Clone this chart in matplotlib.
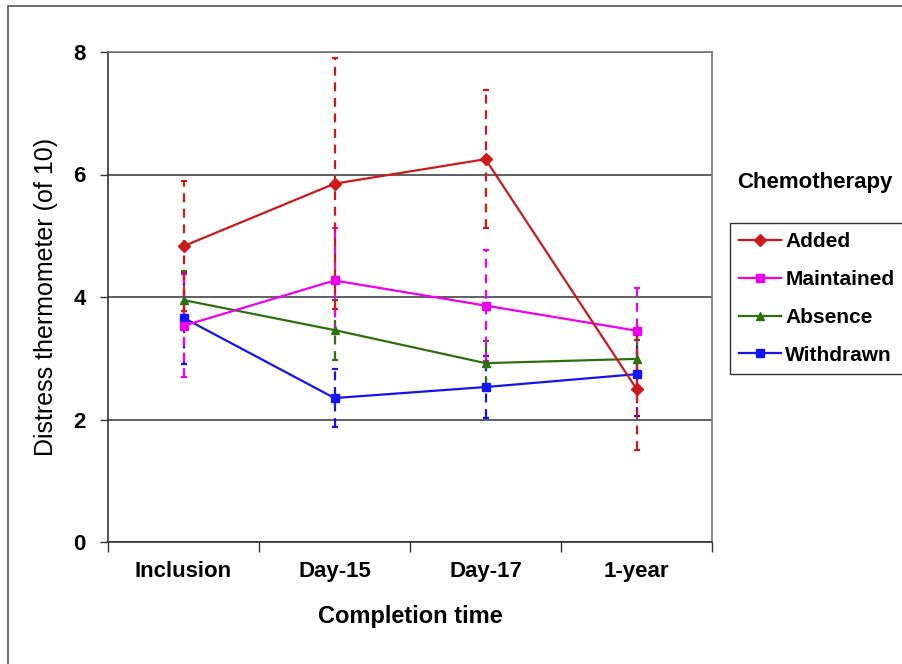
import matplotlib.pyplot as plt
from matplotlib.patches import Rectangle

plt.rcParams['font.family'] = ['Liberation Sans', 'DejaVu Sans']

times = ['Inclusion', 'Day-15', 'Day-17', '1-year']
groups = ['Added', 'Maintained', 'Absence', 'Withdrawn']

added = [4.83, 5.85, 6.25, 2.50]
added_err = [1.06, 2.05, 1.13, 1.00]
maintained = [3.53, 4.27, 3.86, 3.45]
maintained_err = [0.84, 0.86, 0.91, 0.70]
absence = [3.95, 3.46, 2.92, 2.99]
absence_err = [0.47, 0.49, 0.36, 0.30]
withdrawn = [3.66, 2.35, 2.53, 2.74]
withdrawn_err = [0.75, 0.48, 0.51, 0.68]

colors = ['#CC1A1A', '#EE00EE', '#2E7010', '#1414F0']
markers = ['D', 's', '^', 's']
msizes = [7, 9, 8, 5]

fig = plt.figure(figsize=(9.02, 6.64), dpi=100)
fig.patches.append(Rectangle((8 / 902, -0.1), 1.2, 1.1 - 6 / 664, transform=fig.transFigure,
                             fill=False, edgecolor='#555555', lw=1.2))
ax = fig.add_axes([108 / 902, 122 / 664, 604 / 902, 490 / 664])

x = list(range(len(times)))
series = [(added, added_err), (maintained, maintained_err),
          (absence, absence_err), (withdrawn, withdrawn_err)]
order = [3, 2, 1, 0]
for i in order:
    vals, err = series[i]
    eb = ax.errorbar(x, vals, yerr=err, fmt='none', ecolor=colors[i],
                     elinewidth=1.6, capsize=2.3, capthick=1.6, zorder=2)
    eb[2][0].set_linestyle((0, (4, 3)))
for i in order:
    vals, err = series[i]
    ax.plot(x, vals, color=colors[i], marker=markers[i], ms=msizes[i],
            lw=1.6, label=groups[i], zorder=3)

ax.set_xlim(-0.5, 3.5)
ax.set_ylim(0, 8)
ax.set_yticks([0, 2, 4, 6, 8])
ax.set_xticks(x)
ax.set_xticklabels(times)
ax.set_xticks([-0.5, 0.5, 1.5, 2.5, 3.5], minor=True)
ax.tick_params(axis='x', which='major', length=0, pad=14)
ax.tick_params(axis='x', which='minor', length=7, width=1, color='#333333')
ax.tick_params(axis='y', length=6, width=1, color='#333333', pad=10)
for lab in ax.get_xticklabels() + ax.get_yticklabels():
    lab.set_fontweight('bold')
    lab.set_fontsize(16)
ax.yaxis.grid(True, color='#444444', lw=1.2)
ax.set_axisbelow(True)
for s in ['left', 'bottom']:
    ax.spines[s].set_color('#333333')
    ax.spines[s].set_linewidth(1.2)
for s in ['top', 'right']:
    ax.spines[s].set_color('#777777')
    ax.spines[s].set_linewidth(1.2)

ax.set_ylabel('Distress thermometer (of 10)', fontsize=18, labelpad=11)
ax.set_xlabel('Completion time', fontsize=17, fontweight='bold', labelpad=16)

handles, labels = ax.get_legend_handles_labels()
handles = handles[::-1]
labels = labels[::-1]
for h in handles:
    h.set_markersize(6)
leg = fig.legend(handles, labels, loc='upper left', bbox_to_anchor=(730 / 902, 1 - 223 / 664),
                 frameon=True, fancybox=False, edgecolor='black', handlelength=2.0,
                 handletextpad=0.2, borderpad=0.45, labelspacing=0.9,
                 prop={'weight': 'bold', 'size': 15}, borderaxespad=0)
leg.get_frame().set_linewidth(1.0)
fig.text(815 / 902, 1 - 182 / 664, 'Chemotherapy', ha='center', va='center',
         fontsize=16, fontweight='bold')

fig.savefig('out.png', dpi=100)
